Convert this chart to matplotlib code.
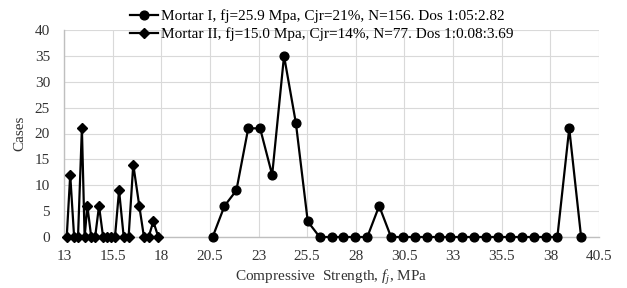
import matplotlib
matplotlib.use("Agg")
import matplotlib.pyplot as plt

plt.rcParams['font.family'] = ['Liberation Serif', 'DejaVu Serif']
plt.rcParams['mathtext.fontset'] = 'custom'
plt.rcParams['mathtext.rm'] = 'Liberation Serif'
plt.rcParams['mathtext.it'] = 'Liberation Serif:italic'

# Mortar I
x1 = [20.64, 21.25, 21.86, 22.47, 23.08, 23.70, 24.31, 24.92, 25.53, 26.14,
      26.75, 27.36, 27.98, 28.59, 29.20, 29.81, 30.42, 31.03, 31.64, 32.25,
      32.86, 33.47, 34.09, 34.70, 35.31, 35.92, 36.53, 37.14, 37.75, 38.36,
      38.97, 39.58]
y1 = [0, 6, 9, 21, 21, 12, 35, 22, 3, 0,
      0, 0, 0, 0, 6, 0, 0, 0, 0, 0,
      0, 0, 0, 0, 0, 0, 0, 0, 0, 0,
      21, 0]

# Mortar II
x2 = [13.14, 13.32, 13.52, 13.72, 13.92, 14.06, 14.20, 14.40, 14.60, 14.80,
      15.01, 15.21, 15.42, 15.62, 15.83, 16.07, 16.32, 16.56, 16.87, 17.11,
      17.35, 17.59, 17.85]
y2 = [0, 12, 0, 0, 21, 0, 6, 0, 0, 6,
      0, 0, 0, 0, 9, 0, 0, 14, 6, 0,
      0, 3, 0]

label1 = "Mortar I, fj=25.9 Mpa, Cjr=21%, N=156. Dos 1:05:2.82"
label2 = "Mortar II, fj=15.0 Mpa, Cjr=14%, N=77. Dos 1:0.08:3.69"
xticks = [13, 15.5, 18, 20.5, 23, 25.5, 28, 30.5, 33, 35.5, 38, 40.5]
xtick_labels = ["13", "15.5", "18", "20.5", "23", "25.5", "28", "30.5", "33", "35.5", "38", "40.5"]
yticks = [0, 5, 10, 15, 20, 25, 30, 35, 40]

fig = plt.figure(figsize=(6.27, 2.88), dpi=100)
ax = fig.add_axes([64/627, 1-237/288, (599-64)/627, (237-30)/288])

ax.plot(x1, y1, color='black', lw=1.6, marker='o', ms=6.3, label=label1, clip_on=False, zorder=3)
ax.plot(x2, y2, color='black', lw=1.6, marker='D', ms=5, label=label2, clip_on=False, zorder=3)

ax.set_xlim(13, 40.5)
ax.set_ylim(0, 40)
ax.set_xticks(xticks)
ax.set_xticklabels(xtick_labels)
ax.set_yticks(yticks)
ax.grid(True, color='#d9d9d9', lw=0.8)
ax.set_axisbelow(True)
for s in ['top', 'right']:
    ax.spines[s].set_visible(False)
for s in ['left', 'bottom']:
    ax.spines[s].set_color('#bfbfbf')
    ax.spines[s].set_linewidth(1.0)
ax.tick_params(axis='x', length=0, labelsize=11, colors='#333333', pad=9)
ax.tick_params(axis='y', length=0, labelsize=11, colors='#333333', pad=10)

ax.set_ylabel("Cases", fontsize=11, color='#333333', labelpad=6)
ax.set_xlabel(r"Compressive  Strength, $\mathit{f_j}$, MPa", fontsize=11, color='#333333', labelpad=4)

leg = fig.legend(loc='upper left', bbox_to_anchor=(121/627, 1.0), frameon=False,
                 fontsize=11, handlelength=1.8, handletextpad=0.2, labelspacing=0.3,
                 borderpad=0.1)

fig.savefig("out.png", dpi=100)
